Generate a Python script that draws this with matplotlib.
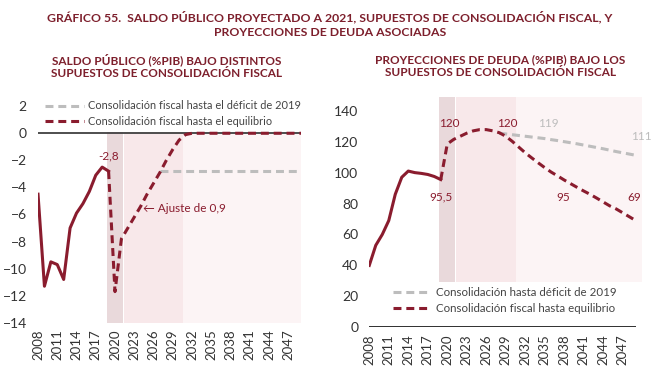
import matplotlib
matplotlib.use("Agg")
import matplotlib.pyplot as plt
from matplotlib.lines import Line2D

plt.rcParams['font.family'] = ['Lato', 'DejaVu Sans']

# ====== colores ======
ROJO = "#8a1c2e"
GRIS = "#bdbdbd"
TITULO = "#7d1f2c"

# ====== datos: saldo público (%PIB) ======
anios_hist = [2008, 2009, 2010, 2011, 2012, 2013, 2014, 2015, 2016, 2017, 2018, 2019]
saldo_hist = [-4.5, -11.3, -9.5, -9.7, -10.8, -7.0, -5.9, -5.2, -4.3, -3.1, -2.5, -2.8]

anios_proy = list(range(2019, 2050))
saldo_equilibrio = [-2.8, -11.7, -7.8, -7.0, -6.2, -5.4, -4.5, -3.7, -2.9, -2.0,
                    -1.2, -0.5, -0.1, 0.0, 0.0, 0.0, 0.0, 0.0, 0.0, 0.0,
                    0.0, 0.0, 0.0, 0.0, 0.0, 0.0, 0.0, 0.0, 0.0, 0.0, 0.0]
anios_def = list(range(2027, 2050))
saldo_deficit = [-2.8, -2.8, -2.8, -2.8, -2.8, -2.8, -2.8, -2.8, -2.8, -2.8,
                 -2.8, -2.8, -2.8, -2.8, -2.8, -2.8, -2.8, -2.8, -2.8, -2.8,
                 -2.8, -2.8, -2.8]

# ====== datos: deuda (%PIB) ======
deuda_hist = [40, 53, 60, 69, 86, 97, 101, 100, 99.5, 98.8, 97.5, 95.5]
deuda_equilibrio = [95.5, 118.5, 121.5, 123.5, 125.5, 127.0, 127.8, 127.8, 127.0, 125.8,
                    123.5, 120.2, 116.5, 112.8, 109.5, 106.3, 103.2, 100.3, 97.8, 95.2,
                    92.8, 90.4, 88.1, 85.9, 83.5, 81.0, 78.5, 76.5, 74.0, 71.5, 69.0]
anios_deuda_def = list(range(2028, 2050))
deuda_deficit = [125.5, 125.0, 124.5, 124.0, 123.5, 123.0, 122.5, 122.0, 121.3, 120.7,
                 120.0, 119.3, 118.6, 117.8, 117.0, 116.2, 115.4, 114.5, 113.6, 112.8,
                 112.0, 111.2]

ticks_x = list(range(2008, 2048, 3))

# ====== bandas sombreadas ======
bandas = [(2018.8, 2021.2, "#e9d9db"), (2021.4, 2030.6, "#f8e8ea"), (2030.6, None, "#fcf4f5")]

fig = plt.figure(figsize=(6.6, 3.71), dpi=100)

fig.text(0.5, 0.955, "GRÁFICO 55.  SALDO PÚBLICO PROYECTADO A 2021, SUPUESTOS DE CONSOLIDACIÓN FISCAL, Y",
         ha="center", va="center", fontsize=8.8, fontweight="bold", color=TITULO)
fig.text(0.5, 0.912, "PROYECCIONES DE DEUDA ASOCIADAS",
         ha="center", va="center", fontsize=8.8, fontweight="bold", color=TITULO)
fig.text(0.253, 0.822, "SALDO PÚBLICO (%PIB) BAJO DISTINTOS\nSUPUESTOS DE CONSOLIDACIÓN FISCAL",
         ha="center", va="center", fontsize=8.5, fontweight="bold", color=TITULO, linespacing=1.25)
fig.text(0.758, 0.822, "PROYECCIONES DE DEUDA (%PIB) BAJO LOS\nSUPUESTOS DE CONSOLIDACIÓN FISCAL",
         ha="center", va="center", fontsize=8.5, fontweight="bold", color=TITULO, linespacing=1.25)


def estilo(ax, x_fin):
    for s in ax.spines.values():
        s.set_visible(False)
    ax.set_xticks(ticks_x)
    ax.set_xticklabels([str(t) for t in ticks_x], rotation=90, fontsize=9.5, color="#333333")
    ax.tick_params(length=0, pad=5)
    ax.tick_params(axis="y", labelsize=10, colors="#333333", pad=8)
    ax.set_xlim(2008, x_fin)


# ====== panel izquierdo: saldo ======
ax1 = fig.add_axes([0.0576, 0.130, 0.3985, 0.602])
for a, b, c in bandas:
    ax1.fill_between([a, b if b else 2049], 0.1, -14, color=c, lw=0, zorder=0)
ax1.axhline(0, color="#404040", lw=1.3, zorder=1)
ax1.plot(anios_hist, saldo_hist, color=ROJO, lw=2.2, zorder=3)
ax1.plot(anios_def, saldo_deficit, color=GRIS, lw=2.2, dashes=(2.6, 1.6), zorder=2)
ax1.plot(anios_proy, saldo_equilibrio, color=ROJO, lw=2.2, dashes=(2.6, 1.6), zorder=3)
ax1.set_ylim(-14, 2.5)
ax1.set_yticks(range(-14, 3, 2))
estilo(ax1, 2049)
ax1.text(2019.0, -1.7, "-2,8", color=ROJO, fontsize=8.5, ha="center", va="center")
ax1.text(2024.3, -5.55, "← Ajuste de 0,9", color=ROJO, fontsize=8.5, ha="left", va="center")
ley1 = [Line2D([], [], color=GRIS, lw=2.2, dashes=(2.6, 1.6)),
        Line2D([], [], color=ROJO, lw=2.2, dashes=(2.6, 1.6))]
ax1.legend(ley1, ["Consolidación fiscal hasta el déficit de 2019",
                  "Consolidación fiscal hasta el equilibrio"],
           loc="upper left", bbox_to_anchor=(-0.01, 1.04), frameon=False, fontsize=7.9,
           handlelength=3.5, handletextpad=0.4, labelspacing=0.4, labelcolor="#444444")

# ====== panel derecho: deuda ======
ax2 = fig.add_axes([0.5595, 0.1178, 0.4136, 0.6254])
for a, b, c in bandas:
    ax2.fill_between([a, b if b else 2049.9], 29.5, 149, color=c, lw=0, zorder=0)
ax2.hlines(0, 2008, 2049, color="#202020", lw=1.3, zorder=1)
ax2.plot(anios_hist, deuda_hist, color=ROJO, lw=2.2, zorder=3)
ax2.plot(anios_deuda_def, deuda_deficit, color=GRIS, lw=2.2, dashes=(2.6, 1.6), zorder=2)
ax2.plot(anios_proy, deuda_equilibrio, color=ROJO, lw=2.2, dashes=(2.6, 1.6), zorder=3)
ax2.set_ylim(0, 150)
ax2.set_yticks(range(0, 141, 20))
estilo(ax2, 2050)
for x, y, t, c in [(2020.3, 132, "120", ROJO), (2029.2, 132, "120", ROJO), (2035.6, 132, "119", GRIS),
                   (2049.8, 123.5, "111", GRIS), (2019.0, 84, "95,5", ROJO), (2037.9, 84, "95", ROJO),
                   (2048.8, 84, "69", ROJO)]:
    ax2.text(x, y, t, color=c, fontsize=8.5, ha="center", va="center", clip_on=False)
ax2.legend(ley1, ["Consolidación hasta déficit de 2019",
                  "Consolidación fiscal hasta equilibrio"],
           loc="upper left", bbox_to_anchor=(0.05, 0.22), frameon=False, fontsize=8.3,
           handlelength=3.3, handletextpad=0.4, labelspacing=0.45, labelcolor="#444444")

fig.savefig("out.png", dpi=100)
